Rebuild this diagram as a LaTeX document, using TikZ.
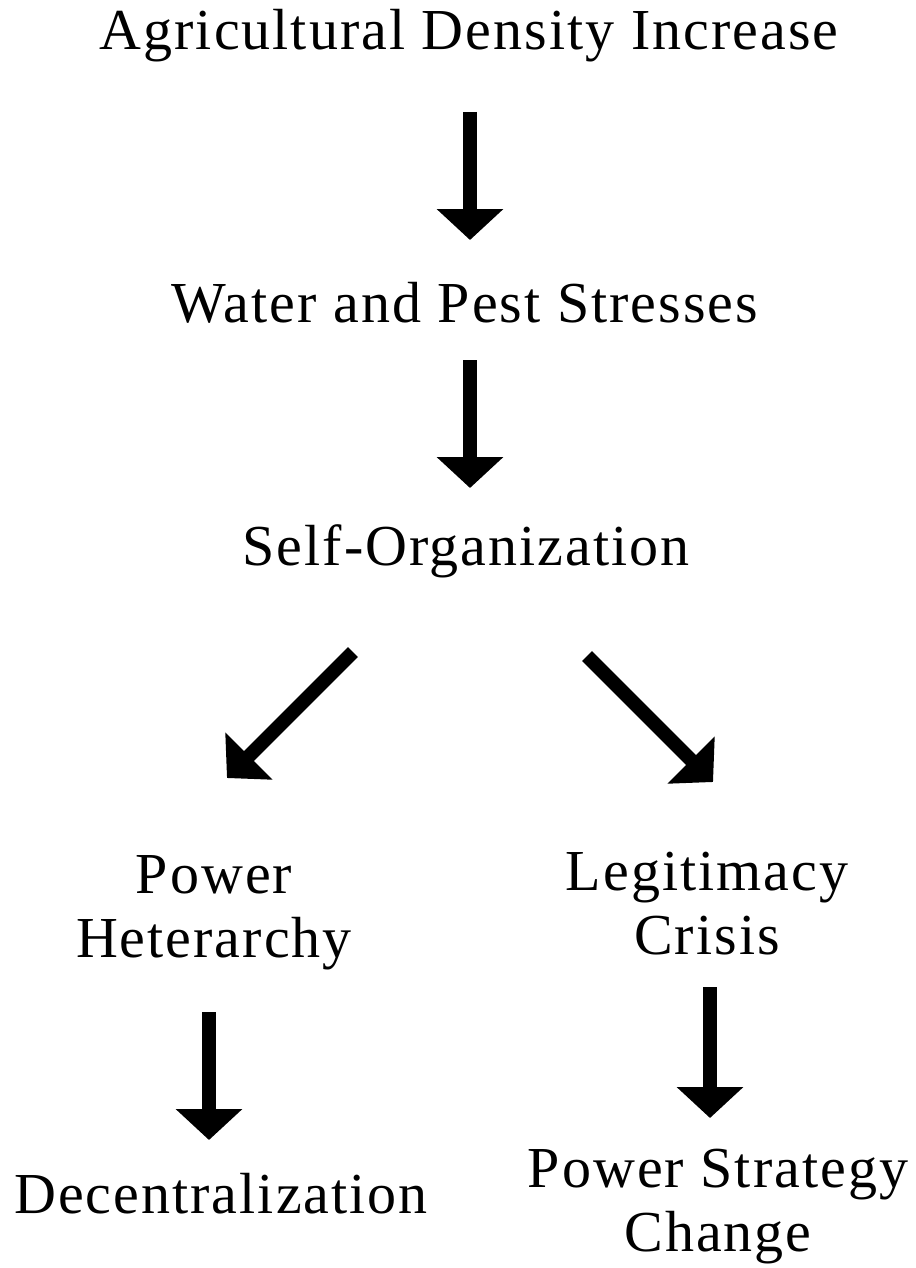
\documentclass[tikz,border=0pt]{standalone}
\usepackage{fontspec}
\setmainfont{Liberation Serif}[LetterSpace=3.5]
\usetikzlibrary{arrows.meta}
\begin{document}
\begin{tikzpicture}[x=1pt,y=-1pt,
  lbl/.style={inner sep=0pt, anchor=base, align=center, font=\fontsize{58}{64}\selectfont},
  blockarrow/.style={line width=14pt, line cap=butt, -{Triangle[width=65pt,length=31pt]}}]
\useasboundingbox (0,0) rectangle (915,1268);
\node[lbl] (adi) at (469,50) {Agricultural Density Increase};
\node[lbl] (wps) at (465,322) {Water and Pest Stresses};
\node[lbl] (so)  at (466,565) {Self-Organization};
\node[lbl] (ph)  at (214,957) {Power\\Heterarchy};
\node[lbl] (lc)  at (707,954) {Legitimacy\\Crisis};
\node[lbl] (dec) at (221,1213) {Decentralization};
\node[lbl] (psc) at (718,1251) {Power Strategy\\Change};
\coordinate (a1s) at (470,112);  \coordinate (a1e) at (470,240);
\coordinate (a2s) at (470,360);  \coordinate (a2e) at (470,488);
\coordinate (a3s) at (353,652);  \coordinate (a3e) at (227,778);
\coordinate (a4s) at (587,656);  \coordinate (a4e) at (713,782);
\coordinate (a5s) at (209,1012); \coordinate (a5e) at (209,1140);
\coordinate (a6s) at (710,987);  \coordinate (a6e) at (710,1118);
\draw[blockarrow] (a1s) -- (a1e);
\draw[blockarrow] (a2s) -- (a2e);
\draw[blockarrow] (a3s) -- (a3e);
\draw[blockarrow] (a4s) -- (a4e);
\draw[blockarrow] (a5s) -- (a5e);
\draw[blockarrow] (a6s) -- (a6e);
\end{tikzpicture}
\end{document}
